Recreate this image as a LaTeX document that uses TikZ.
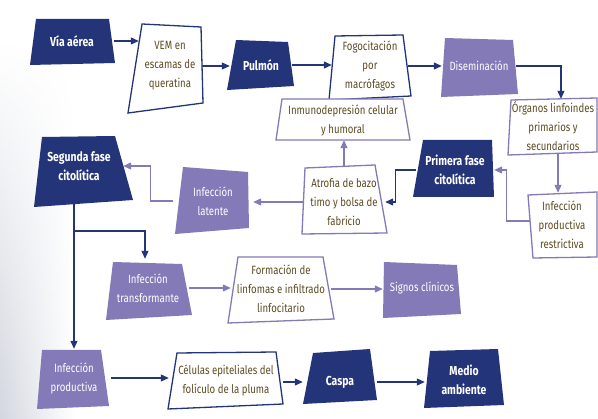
\documentclass[tikz,border=0pt]{standalone}
\usepackage{fontspec}
\setmainfont[FakeStretch=0.8]{Fira Sans}
\usetikzlibrary{calc,arrows.meta,backgrounds,fadings}
\definecolor{azul}{RGB}{36,52,120}
\definecolor{lila}{RGB}{131,122,183}
\definecolor{cafe}{RGB}{92,76,34}
\definecolor{fondo}{RGB}{196,201,212}
\tikzfading[name=fadearriba, top color=transparent!100, bottom color=transparent!25]

\begin{document}
\begin{tikzpicture}
		[x=1pt,y=-1pt,
		caja/.style={inner sep=0pt, align=center, font=\fontsize{12}{19}\selectfont},
		tazul/.style={caja, text=white, font=\bfseries\fontsize{13}{19}\selectfont},
		tlila/.style={caja, text=white},
		tblanco/.style={caja, text=cafe},
		pazul/.style={fill=azul},
		plila/.style={fill=lila},
		pbazul/.style={draw=azul, fill=white, line width=1.3pt},
		pblila/.style={draw=lila, fill=white, line width=1.3pt},
		flecha/.style={-{Triangle[length=8pt,width=7pt]}, line width=1.1pt}]
		\useasboundingbox (0,0) rectangle (598,419);
		
		%-----fila de arriba
		\path[pazul] (36,19) -- (109,19) -- (115,63) -- (30,65) -- cycle;
		\node[tazul, minimum width=84, minimum height=44] (via) at (72,41) {Vía aérea};
		\path[pbazul] (142,24) -- (201,27) -- (203,103) -- (128,113) -- cycle;
		\node[tblanco, minimum width=62, minimum height=80] (vem) at (170,66) {VEM en\\escamas de\\queratina};
		\path[pazul] (236,40) -- (288,42) -- (294,86) -- (227,90) -- cycle;
		\node[tazul, minimum width=62, minimum height=48] (pul) at (261,65) {Pulmón};
		\path[pbazul] (335,36) -- (403,35) -- (411,96) -- (329,100) -- cycle;
		\node[tblanco, minimum width=76, minimum height=62] (fog) at (370,66) {Fogocitación\\por\\macrófagos};
		\path[plila] (445,38) -- (513,40) -- (518,94) -- (441,97) -- cycle;
		\node[tlila, minimum width=74, minimum height=56] (dis) at (479,66) {Diseminación};
		
		%-----fila del medio
		\path[pblila] (282,99) -- (403,99) -- (410,140) -- (276,140) -- cycle;
		\node[tblanco, minimum width=130, minimum height=40] (inm) at (343,120) {Inmunodepresión celular\\y humoral};
		\path[pblila] (511,100) -- (597,98) -- (597,152) -- (508,155) -- cycle;
		\node[tblanco, minimum width=86, minimum height=54] (org) at (553,126) {Órganos linfoindes\\primarios y\\secundarios};
		\path[pblila] (528,195) -- (597,192) -- (597,257) -- (533,258) -- cycle;
		\node[tblanco, minimum width=64, minimum height=64] (res) at (562,225) {Infección\\productiva\\restrictiva};
		\path[pazul] (423,140) -- (492,140) -- (494,197) -- (413,197) -- cycle;
		\node[tazul, minimum width=78, minimum height=57] (pri) at (455,170) {Primera fase\\citolítica};
		\path[pblila] (305,168) -- (375,165) -- (387,233) -- (302,234) -- cycle;
		\node[tblanco, minimum width=82, minimum height=72] (atr) at (344,202) {Atrofia de bazo\\timo y bolsa de\\fabricio};
		\path[plila] (183,167) -- (248,172) -- (249,228) -- (175,234) -- cycle;
		\node[tlila, minimum width=80, minimum height=60] (lat) at (213,201) {Infección\\latente};
		\path[pazul] (42,137) -- (115,136) -- (133,200) -- (34,207) -- cycle;
		\node[tazul, minimum width=88, minimum height=76] (seg) at (79,166) {Segunda fase\\citolítica};
		
		%-----filas de abajo
		\path[plila] (113,262) -- (182,264) -- (192,315) -- (106,320) -- cycle;
		\node[tlila, minimum width=82, minimum height=58] (tra) at (148,288) {Infección\\transformante};
		\path[pblila] (238,257) -- (323,257) -- (334,319) -- (228,323) -- cycle;
		\node[tblanco, minimum width=100, minimum height=62] (for) at (281,289) {Formación de\\linfomas e infiltrado\\linfocitario};
		\path[plila] (384,262) -- (457,265) -- (461,314) -- (383,318) -- cycle;
		\node[tlila, minimum width=78, minimum height=52] (sig) at (422,288) {Signos clínicos};
		\path[plila] (42,350) -- (101,350) -- (109,406) -- (37,409) -- cycle;
		\node[tlila, minimum width=74, minimum height=58] (pro) at (74,378) {Infección\\productiva};
		\path[pbazul] (177,353) -- (276,352) -- (283,404) -- (168,409) -- cycle;
		\node[tblanco, minimum width=114, minimum height=54] (cel) at (226,380) {Células epiteliales del\\folículo de la pluma};
		\path[pazul] (313,353) -- (370,349) -- (377,400) -- (303,404) -- cycle;
		\node[tazul, minimum width=74, minimum height=50] (cas) at (340,382) {Caspa};
		\path[pazul] (430,351) -- (498,349) -- (504,405) -- (424,408) -- cycle;
		\node[tazul, minimum width=78, minimum height=56] (med) at (464,380) {Medio\\ambiente};
		
		\coordinate (rama) at (74,231);
		
		\begin{pgfonlayer}{background}
		 \shade[left color=fondo, right color=white, path fading=fadearriba] (0,40) rectangle (75,419);
		 
		 \foreach \from/\to in {via/vem, vem/pul, pul/fog, fog/dis, pro/cel, cas/med}
		 \draw[flecha, azul] (\from.east) -- (\from.east -| \to.west);
		 \foreach \from/\to in {tra/for, for/sig}
		 \draw[flecha, lila] (\from.east) -- (\from.east -| \to.west);
		 
		 \draw[flecha, azul] (dis.east) -| ([xshift=8pt]org.north);
		 \draw[flecha, lila] ([xshift=5pt]org.south) -- ([xshift=-4pt]res.north);
		 \draw[flecha, lila] ([yshift=4pt]res.west) -- ++(-23,0) |- (pri.east);
		 \draw[flecha, azul] (pri.west) -- ++(-20,0) |- (atr.east);
		 \draw[flecha, lila] (atr.north) -- (atr.north |- inm.south);
		 \draw[flecha, lila] (atr.west) -- (atr.west -| lat.east);
		 \draw[flecha, lila] (lat.west) -- ++(-22,0) |- (seg.east);
		 \draw[flecha, azul] (pro.north |- seg.south) -- (pro.north);
		 \draw[flecha, azul] (rama) -| ([xshift=-3pt]tra.north);
		 \draw[flecha, azul] (cel.east |- cas.west) -- (cas.west);
		\end{pgfonlayer}
		
\end{tikzpicture}
\end{document}
